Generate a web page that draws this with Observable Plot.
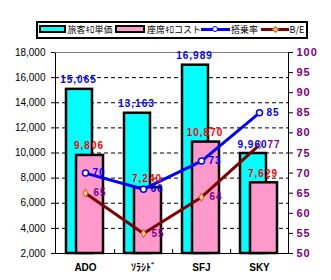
<!DOCTYPE html>
<html><head><meta charset="utf-8">
<script src="https://cdn.jsdelivr.net/npm/d3@7"></script>
<script src="https://cdn.jsdelivr.net/npm/@observablehq/plot@0.6"></script>
<style>
body{margin:0;background:#fff;}
#wrap{position:relative;width:331px;height:280px;font-family:"Liberation Sans",Arial,"Noto Sans CJK JP",sans-serif;}
#legend{position:absolute;left:36px;top:21px;width:272px;height:18px;border:2px solid #000;box-sizing:border-box;background:#fff;}
#legend .sw{position:absolute;top:2px;height:8px;border:2px solid #000;box-sizing:border-box;}
#legend .tx{position:absolute;top:0px;line-height:13px;font-size:9px;font-family:"Noto Sans CJK JP","Liberation Sans",sans-serif;color:#000;white-space:nowrap;}
#legend .ln{position:absolute;top:4.5px;height:3px;}
#legend .mk{position:absolute;box-sizing:border-box;}
#wrap svg g[aria-label="text"] text{letter-spacing:1px;}
#wrap svg g[aria-label="y-axis tick label"][font-weight="bold"] text{letter-spacing:1px;}
</style>
</head><body>
<div id="wrap"><div id="chart"></div><div id="legend"></div></div>
<script>
const categories = ["ADO", "ｿﾗｼﾄﾞ", "SFJ", "SKY"];
const unitRevenue = [15065, 13163, 16989, 9960];
const seatCost = [9806, 7240, 10870, 7629];
const loadFactor = [70, 66, 73, 85];
const breakEven = [65, 55, 64, 77];
const leftTicks = [2000, 4000, 6000, 8000, 10000, 12000, 14000, 16000, 18000];
const rightTicks = [50, 55, 60, 65, 70, 75, 80, 85, 90, 95, 100];
const legendLabels = ["旅客ｷﾛ単価", "座席ｷﾛコスト", "搭乗率", "B/E"];

const y2 = v => 2000 + (v - 50) * 320;
const rows = categories.map((c, i) => ({c, rev: unitRevenue[i], cost: seatCost[i], lf: loadFactor[i], be: breakEven[i]}));
const fmt = d3.format(",");
const bw = (331 - 55 - 43) / categories.length;

const chart = Plot.plot({
  width: 331, height: 280,
  marginLeft: 55, marginRight: 43, marginTop: 52, marginBottom: 27,
  style: {fontFamily: '"Liberation Sans", Arial, "Noto Sans CJK JP", sans-serif', fontSize: "10px", background: "transparent", color: "#000"},
  x: {type: "band", domain: categories, padding: 0, axis: null, label: null},
  y: {domain: [2000, 18000], axis: null, label: null},
  marks: [
    Plot.ruleY(leftTicks.slice(1, -1), {stroke: "#000", strokeDasharray: "4,3"}),
    Plot.barY(rows, {x: "c", y1: 2000, y2: "rev", fill: "#00FFFF", stroke: "#000", strokeWidth: 2.5, insetLeft: 10, insetRight: 22}),
    Plot.barY(rows, {x: "c", y1: 2000, y2: "cost", fill: "#FF99CC", stroke: "#000", strokeWidth: 2.5, insetLeft: 20, insetRight: 11}),
    Plot.frame({stroke: "#000"}),
    Plot.ruleY([18000], {stroke: "#808080"}),
    Plot.ruleX(categories.slice(0, -1), {x: d => d, dx: bw / 2, insetTop: 197, stroke: "#000"}),
    Plot.axisY({anchor: "left", label: null, ticks: leftTicks, tickSize: 4, tickPadding: 6, tickFormat: fmt, fontSize: 10}),
    Plot.axisY({anchor: "right", label: null, ticks: rightTicks.map(y2), tickSize: 4, tickFormat: () => ""}),
    Plot.axisY({anchor: "right", label: null, ticks: rightTicks.map(y2), tickSize: 0, tickPadding: 8, tickFormat: d => String(Math.round((d - 2000) / 320 + 50)), fill: "#800080", fontWeight: "bold", fontSize: 11}),
    Plot.axisX({label: null, tickSize: 0, tickPadding: 10, fontWeight: "bold", fontSize: 10}),
    Plot.line(rows, {x: "c", y: d => y2(d.lf), stroke: "#0000FF", strokeWidth: 3}),
    Plot.line(rows, {x: "c", y: d => y2(d.be), stroke: "#800000", strokeWidth: 3}),
    Plot.dot(rows, {x: "c", y: d => y2(d.lf), r: 3, fill: "#fff", stroke: "#0000FF", strokeWidth: 1.5}),
    Plot.dot(rows, {x: "c", y: d => y2(d.be), symbol: "diamond", r: 2.6, fill: "#FFCC99", stroke: "#C06000", strokeWidth: 1}),
    Plot.text(rows, {x: "c", y: "rev", text: d => fmt(d.rev), dx: -7, dy: -6, lineAnchor: "bottom", fill: "#0000FF", fontWeight: "bold", fontSize: 10}),
    Plot.text(rows, {x: "c", y: "cost", text: d => fmt(d.cost), dx: 3.5, dy: -6, lineAnchor: "bottom", fill: "#FF0000", fontWeight: "bold", fontSize: 10}),
    Plot.text(rows, {x: "c", y: d => y2(d.lf), text: d => String(d.lf), dx: 7, textAnchor: "start", fill: "#0000FF", fontWeight: "bold", fontSize: 10}),
    Plot.text(rows, {x: "c", y: d => y2(d.be), text: d => String(d.be), dx: 8, textAnchor: "start", fill: "#800080", fontWeight: "bold", fontSize: 10})
  ]
});
document.getElementById("chart").appendChild(chart);

// legend
const lg = document.getElementById("legend");
function el(cls, style, text) {
  const d = document.createElement("div");
  d.className = cls;
  Object.assign(d.style, style);
  if (text != null) d.textContent = text;
  lg.appendChild(d);
  return d;
}
el("sw", {left: "0.5px", width: "27px", background: "#00FFFF"});
el("tx", {left: "29.5px"}, legendLabels[0]);
el("sw", {left: "77px", width: "30px", background: "#FF99CC"});
el("tx", {left: "109px"}, legendLabels[1]);
el("ln", {left: "162.5px", width: "29.5px", background: "#0000FF"});
el("mk", {left: "174px", top: "3px", width: "6px", height: "6px", borderRadius: "50%", background: "#fff", border: "1.5px solid #0000FF"});
el("tx", {left: "193px"}, legendLabels[2]);
el("ln", {left: "222.5px", width: "28px", background: "#800000"});
el("mk", {left: "234.5px", top: "3.5px", width: "5px", height: "5px", transform: "rotate(45deg)", background: "#FFCC99", border: "1px solid #C06000"});
el("tx", {left: "251.5px"}, legendLabels[3]);
</script>
</body></html>
